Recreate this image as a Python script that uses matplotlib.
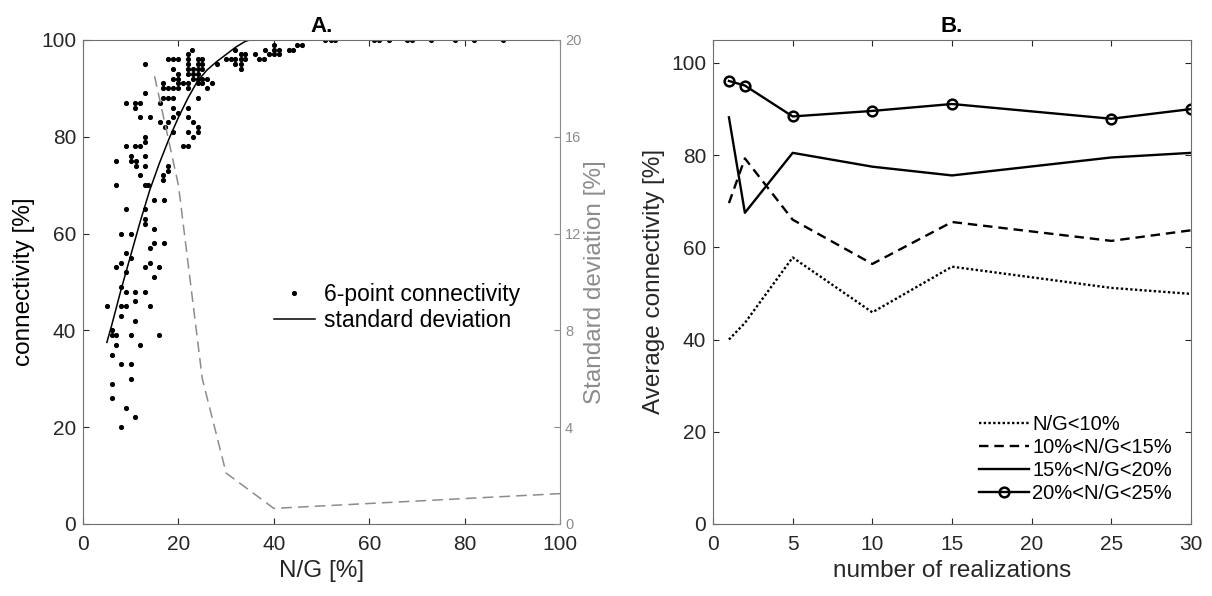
import numpy as np
import matplotlib
matplotlib.use("Agg")
from matplotlib import pyplot as plt

plt.rcParams["font.family"] = ["Liberation Sans", "DejaVu Sans"]

# ---- panel A: scatter of connectivity vs N/G ----
scatter_rows = {
    100: [50.8, 51.9, 52.9, 60.9, 62.0, 64.1, 67.9, 69.0, 72.9, 78.0, 82.0, 88.1],
    99: [40.0, 44.9, 45.9],
    98: [22.9, 31.9, 38.1, 40.0, 41.1, 43.2, 44.1],
    97: [22.0, 33.1, 33.9, 36.0, 38.9, 40.0, 41.1],
    96: [17.8, 18.9, 19.9, 22.0, 24.0, 25.0, 29.9, 31.0, 31.9, 33.1, 33.9, 36.9, 37.9],
    95: [13.0, 22.0, 24.0, 25.0, 28.0, 31.9, 33.1],
    94: [18.9, 22.0, 23.1, 24.0, 25.0, 33.1],
    93: [19.9, 22.0, 23.1, 24.0],
    92: [18.9, 19.9, 23.1, 24.0, 25.0, 26.0],
    91: [16.8, 19.9, 21.0, 22.0, 24.0, 25.0, 27.1],
    90: [16.8, 17.8, 18.9, 19.9, 22.0, 26.0],
    89: [13.0],
    88: [16.8, 17.8, 18.9, 24.0],
    87: [9.0, 10.9, 11.9, 16.1],
    86: [10.9, 18.9, 22.0],
    85: [19.9],
    84: [11.9, 14.0, 18.9, 22.0],
    83: [16.1, 17.8, 23.1],
    82: [17.2, 24.0],
    81: [18.9, 22.0, 24.0],
    80: [13.0, 23.1],
    79: [13.0],
    78: [9.0, 10.9, 11.9, 21.0, 22.0],
    76: [10.0, 13.0],
    75: [6.9, 10.0, 11.1],
    74: [11.1, 13.0, 17.8],
    73: [17.8],
    72: [11.9, 16.8],
    71: [16.8],
    70: [6.9, 13.0, 13.7],
    67: [14.9, 17.0],
    65: [9.0, 13.0],
    63: [13.0],
    62: [13.0],
    61: [14.9],
    60: [7.9, 10.0],
    58: [14.9, 17.0],
    57: [14.0],
    56: [9.0],
    55: [10.0],
    54: [7.9, 14.0],
    53: [6.9, 13.0, 16.0],
    52: [9.0],
    51: [14.9],
    49: [7.9],
    48: [9.0, 10.9, 13.0],
    46: [10.9],
    45: [5.0, 7.9, 9.0, 14.0],
    43: [7.9],
    42: [10.9],
    40: [6.0],
    39: [6.0, 6.9, 10.0, 16.0],
    37: [6.9, 11.9],
    35: [6.0],
    33: [7.9, 10.0],
    30: [10.0],
    29: [6.0],
    26: [6.0],
    24: [9.0],
    22: [11.0],
    20: [7.9],
}
ng = [x for y, xs in scatter_rows.items() for x in xs]
conn = [y for y, xs in scatter_rows.items() for x in xs]

fit_x = [5, 6, 8, 10, 12, 14, 16, 18, 20, 22, 24, 26, 28, 30, 32, 34, 35]
fit_y = [37.5, 41, 48.5, 55.5, 62.5, 69, 74.5, 79.5, 84, 88, 91.5, 93.8, 95.5, 97, 98.5, 99.7, 100]

std_x = [15, 20, 25, 30, 40, 100]
std_y = [18.5, 14.0, 6.0, 2.1, 0.64, 1.25]

# ---- panel B: average connectivity vs realizations ----
realizations = [1, 2, 5, 10, 15, 25, 30]
series_b = {
    "N/G<10%": [40.0, 43.6, 57.8, 45.9, 55.8, 51.2, 49.9],
    "10%<N/G<15%": [69.6, 79.3, 66.0, 56.4, 65.5, 61.4, 63.7],
    "15%<N/G<20%": [88.2, 67.5, 80.5, 77.5, 75.6, 79.5, 80.5],
    "20%<N/G<25%": [96.1, 95.1, 88.4, 89.6, 91.1, 87.9, 90.0],
}
styles_b = [
    dict(ls=(0, (1, 1)), lw=1.7),
    dict(ls=(0, (4, 2.5)), lw=1.7),
    dict(ls="-", lw=1.7),
    dict(ls="-", lw=1.7, marker="o", ms=7, mfc="none", mew=1.8),
]

dark = "#262626"
spine = "#6e6e6e"
gray = "#8c8c8c"
tick_fs = 15
label_fs = 17.5

fig = plt.figure(figsize=(12.12, 5.96), dpi=100)

ax = fig.add_axes([0.0685, 0.121, 0.3936, 0.812])
ax.plot(ng, conn, "o", color="k", ms=2.7, label="6-point connectivity")
ax.plot(fit_x, fit_y, "-", color="k", lw=1.1, label="standard deviation")
ax.set_xlim(0, 100)
ax.set_ylim(0, 100)
ax.set_xticks(range(0, 101, 20))
ax.set_yticks(range(0, 101, 20))
ax.set_xlabel("N/G [%]", fontsize=label_fs, color=dark)
ax.set_ylabel("connectivity [%]", fontsize=label_fs, color="k")
ax.set_title("A.", fontsize=16, fontweight="bold", pad=6)
ax.tick_params(direction="in", length=4, labelsize=tick_fs, colors=dark, top=True, right=False)
ax.tick_params(axis="x", pad=8)
ax.tick_params(axis="y", pad=5)
for s in ax.spines.values():
    s.set_color(spine)
ax.spines["right"].set_visible(False)
ax.legend(loc="upper left", bbox_to_anchor=(0.40, 0.497), frameon=False, fontsize=16.5,
          handlelength=1.8, handletextpad=0.4, labelspacing=0.1, borderpad=0, borderaxespad=0)

ax2 = ax.twinx()
ax2.plot(std_x, std_y, color=gray, lw=1.1, ls=(0, (7, 4)))
ax2.set_ylim(0, 20)
ax2.set_yticks(range(0, 21, 4))
ax2.set_ylabel("Standard deviation [%]", fontsize=17.5, color=gray, labelpad=2)
ax2.tick_params(direction="in", length=4, labelsize=10.5, colors=gray)
for k, s in ax2.spines.items():
    s.set_visible(k == "right")
ax2.spines["right"].set_color(gray)

bx = fig.add_axes([0.5883, 0.121, 0.3944, 0.812])
for (name, vals), st in zip(series_b.items(), styles_b):
    bx.plot(realizations, vals, color="k", label=name, **st)
bx.set_xlim(0, 30)
bx.set_ylim(0, 105)
bx.set_xticks(range(0, 31, 5))
bx.set_yticks(range(0, 101, 20))
bx.set_xlabel("number of realizations", fontsize=label_fs, color=dark)
bx.set_ylabel("Average connectivity [%]", fontsize=label_fs, color=dark)
bx.set_title("B.", fontsize=16, fontweight="bold", pad=6)
bx.tick_params(direction="in", length=4, labelsize=tick_fs, colors=dark, top=True, right=True)
bx.tick_params(axis="x", pad=8)
bx.tick_params(axis="y", pad=5)
for s in bx.spines.values():
    s.set_color(spine)
bx.legend(loc="lower right", bbox_to_anchor=(0.96, 0.043), frameon=False, fontsize=14.5,
          handlelength=2.5, handletextpad=0.15, labelspacing=0.2, borderpad=0, borderaxespad=0)

fig.savefig("out.png", dpi=100)
